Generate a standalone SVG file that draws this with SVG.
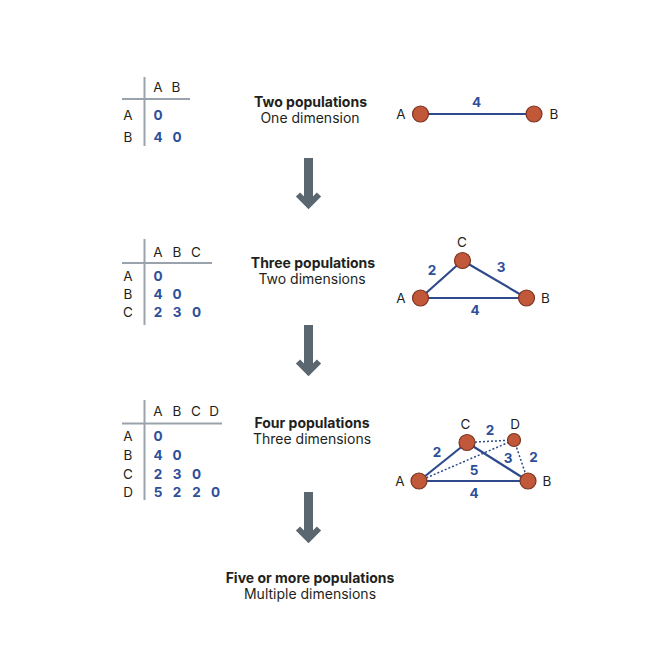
<svg xmlns="http://www.w3.org/2000/svg" xmlns:xlink="http://www.w3.org/1999/xlink" width="672" height="672" viewBox="0 0 672 672">
<style>
text{font-family:Inter,Lato,"Liberation Sans",sans-serif;fill:#231f20;font-size:13.5px}
.c{text-anchor:middle}
.t{font-weight:bold;font-size:14px}
.s{font-size:14px}
.v{fill:#2e4f9a;font-weight:bold;text-anchor:middle}
.lbl{text-anchor:middle}
.grid{stroke:#9aa3ab;stroke-width:2;fill:none}
.edge{stroke:#2e4a8c;stroke-width:2.2;fill:none}
.dot{stroke:#2e4a8c;stroke-width:1.5;stroke-dasharray:2 2;fill:none}
.node{fill:#c1583a;stroke:#7b3322;stroke-width:1.2}
.arr{stroke:#5a6670;fill:none}
</style>
<defs>
<g id="arrowShape">
<line class="arr" x1="308.5" y1="158" x2="308.5" y2="203" stroke-width="9"/>
<polyline class="arr" points="298,194.5 308.5,205 319,194.5" stroke-width="6" stroke-linejoin="miter"/>
</g>
</defs>
<rect width="672" height="672" fill="#fff"/>

<g id="table1">
<line class="grid" x1="144.5" y1="77" x2="144.5" y2="146"/>
<line class="grid" x1="122" y1="99" x2="190" y2="99"/>
<text class="c" x="158" y="92">A</text>
<text class="c" x="176" y="92">B</text>
<text class="c" x="128" y="120">A</text>
<text class="c" x="128" y="142">B</text>
<text class="v" x="158" y="120">0</text>
<text class="v" x="158" y="142">4</text>
<text class="v" x="177" y="142">0</text>
</g>
<g id="title1">
<text class="c t" x="310.5" y="106.5">Two populations</text>
<text class="c s" x="310" y="123">One dimension</text>
</g>

<g id="table2">
<line class="grid" x1="144.5" y1="239" x2="144.5" y2="325"/>
<line class="grid" x1="122" y1="263" x2="212" y2="263"/>
<text class="c" x="158" y="257">A</text>
<text class="c" x="177" y="257">B</text>
<text class="c" x="196" y="257">C</text>
<text class="c" x="128" y="281">A</text>
<text class="c" x="128" y="299">B</text>
<text class="c" x="128" y="317">C</text>
<text class="v" x="158" y="281">0</text>
<text class="v" x="158" y="299">4</text>
<text class="v" x="177" y="299">0</text>
<text class="v" x="158" y="317">2</text>
<text class="v" x="177" y="317">3</text>
<text class="v" x="196.5" y="317">0</text>
</g>
<g id="title2">
<text class="c t" x="313" y="267.5">Three populations</text>
<text class="c s" x="312" y="284">Two dimensions</text>
</g>

<g id="table3">
<line class="grid" x1="144.5" y1="400" x2="144.5" y2="500"/>
<line class="grid" x1="122" y1="423.5" x2="222" y2="423.5"/>
<text class="c" x="158" y="416">A</text>
<text class="c" x="177" y="416">B</text>
<text class="c" x="196" y="416">C</text>
<text class="c" x="214" y="416">D</text>
<text class="c" x="128" y="441">A</text>
<text class="c" x="128" y="460">B</text>
<text class="c" x="128" y="479">C</text>
<text class="c" x="128" y="497">D</text>
<text class="v" x="158" y="441">0</text>
<text class="v" x="158" y="460">4</text>
<text class="v" x="177" y="460">0</text>
<text class="v" x="158" y="479">2</text>
<text class="v" x="177" y="479">3</text>
<text class="v" x="196.5" y="479">0</text>
<text class="v" x="158" y="497">5</text>
<text class="v" x="177" y="497">2</text>
<text class="v" x="196.5" y="497">2</text>
<text class="v" x="215.5" y="497">0</text>
</g>
<g id="title3">
<text class="c t" x="312" y="427.5">Four populations</text>
<text class="c s" x="312" y="444">Three dimensions</text>
</g>

<g id="title4">
<text class="c t" x="310" y="582.5">Five or more populations</text>
<text class="c s" x="310" y="599">Multiple dimensions</text>
</g>

<g id="arrow1"><use xlink:href="#arrowShape"/></g>
<g id="arrow2"><use xlink:href="#arrowShape" transform="translate(0,167)"/></g>
<g id="arrow3"><use xlink:href="#arrowShape" transform="translate(0,334)"/></g>

<g id="connectors">
<line class="edge" x1="420.5" y1="114" x2="534" y2="114"/>
<line class="edge" x1="420.5" y1="298" x2="526.5" y2="298"/>
<line class="edge" x1="420.5" y1="298" x2="462.5" y2="260.5"/>
<line class="edge" x1="462.5" y1="260.5" x2="526.5" y2="298"/>
<line class="edge" x1="419" y1="481" x2="528" y2="481"/>
<line class="edge" x1="419" y1="481" x2="467" y2="442.5"/>
<line class="edge" x1="467" y1="442.5" x2="528" y2="481"/>
<line class="dot" x1="467" y1="442.5" x2="514" y2="440"/>
<line class="dot" x1="419" y1="481" x2="514" y2="440"/>
<line class="dot" x1="514" y1="440" x2="528" y2="481"/>
</g>

<g id="g1A"><circle class="node" cx="420.5" cy="114" r="8"/><text class="lbl" x="401" y="119">A</text></g>
<g id="g1B"><circle class="node" cx="534" cy="114" r="8"/><text class="lbl" x="554" y="119">B</text></g>
<text class="v" x="476.5" y="107">4</text>

<g id="g2A"><circle class="node" cx="420.5" cy="298" r="8"/><text class="lbl" x="401" y="303">A</text></g>
<g id="g2B"><circle class="node" cx="526.5" cy="298" r="8"/><text class="lbl" x="545.5" y="303">B</text></g>
<g id="g2C"><circle class="node" cx="462.5" cy="260.5" r="8"/><text class="lbl" x="462" y="247">C</text></g>
<text class="v" x="432" y="275">2</text>
<text class="v" x="501" y="272">3</text>
<text class="v" x="475" y="315">4</text>

<g id="g3A"><circle class="node" cx="419" cy="481" r="8"/><text class="lbl" x="400" y="486">A</text></g>
<g id="g3B"><circle class="node" cx="528" cy="481" r="8"/><text class="lbl" x="547" y="486">B</text></g>
<g id="g3C"><circle class="node" cx="467" cy="442.5" r="8"/><text class="lbl" x="465.5" y="429">C</text></g>
<g id="g3D"><circle class="node" cx="514" cy="440" r="6.5"/><text class="lbl" x="515" y="429">D</text></g>
<text class="v" x="437" y="457">2</text>
<text class="v" x="490" y="435">2</text>
<text class="v" x="508" y="463">3</text>
<text class="v" x="533.5" y="462">2</text>
<text class="v" x="474" y="475">5</text>
<text class="v" x="474" y="498">4</text>
</svg>
